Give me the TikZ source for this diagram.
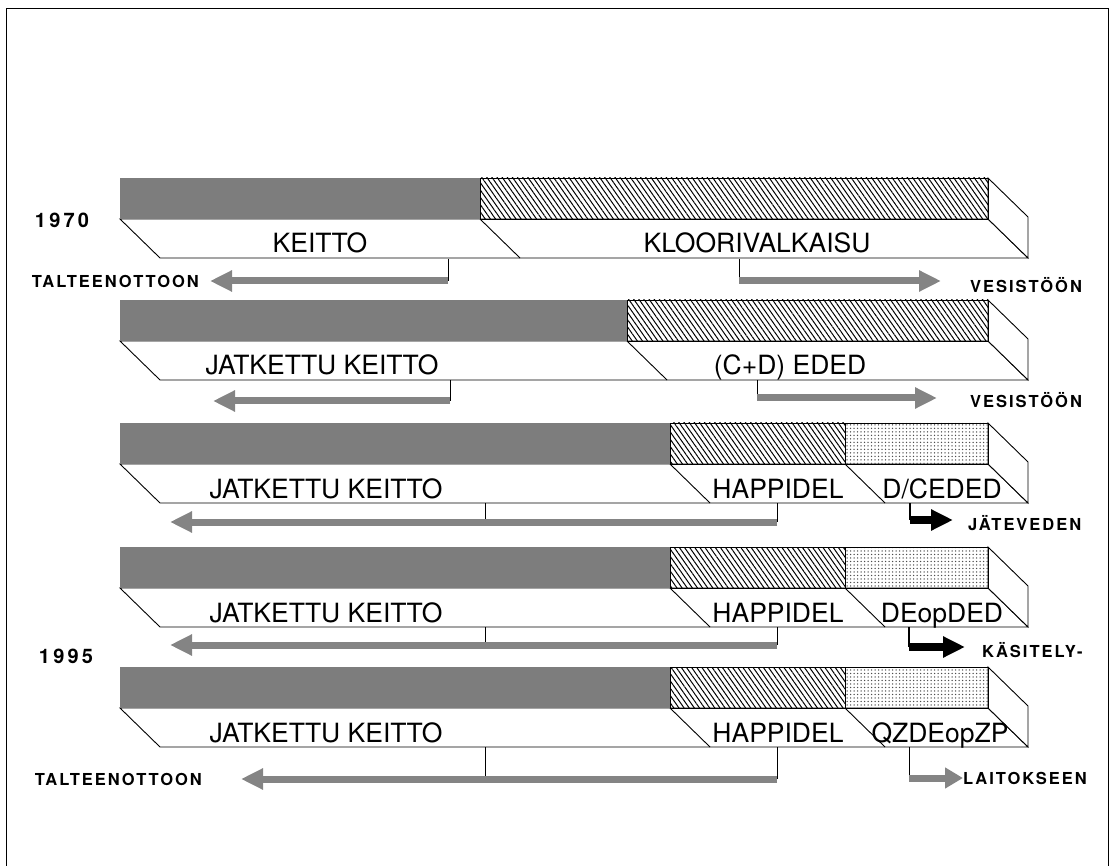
\documentclass[tikz,border=0pt]{standalone}
\usepackage{fontspec}
\setmainfont{TeX Gyre Heros}
\newfontfamily\pienifont[LetterSpace=12]{TeX Gyre Heros}
\newfontfamily\vuosifont[LetterSpace=16]{TeX Gyre Heros}
\usetikzlibrary{positioning,arrows.meta,patterns.meta}

\definecolor{palkki}{RGB}{125,125,125}
\definecolor{nuoli}{RGB}{132,132,132}

\tikzset{
  reuna/.style={line width=0.9pt, black},
  viiva/.style={line width=0.9pt, black},
  vaihe/.style={font=\fontsize{26.5}{30}\selectfont, inner sep=0pt, anchor=base},
  kohde/.style={font=\pienifont\bfseries\fontsize{16.5}{19}\selectfont, inner sep=0pt},
  vuosi/.style={font=\vuosifont\bfseries\fontsize{20}{22}\selectfont, inner sep=0pt, anchor=base},
  harmaanuoli/.style={line width=7pt, nuoli, -{Triangle[length=22pt,width=20pt]}},
  mustanuoli/.style={line width=8pt, black, -{Triangle[length=22pt,width=20pt]}},
  vino/.style={pattern={Lines[angle=-55,distance=4.2pt,line width=1pt]}},
  piste/.style={pattern={Dots[distance=3.5pt,radius=0.75pt]}, pattern color=black!70},
}

\begin{document}
\begin{tikzpicture}[x=1pt,y=-1pt]
    \useasboundingbox (0,0) rectangle (1114,866);

    % KEHYS
    \draw[reuna] (6,866) -- (6,8) -- (1108,8) -- (1108,866);

    % PALKKIEN ETU- JA SIVUTAHKOT
    \foreach \yy in {178,300,423,547,667} {
        \draw[reuna, fill=white] (120,\yy+41) -- (988,\yy+41) -- (1028,\yy+80) -- (160,\yy+80) -- cycle;
        \draw[reuna, fill=white] (988,\yy) -- (1028,\yy+39) -- (1028,\yy+80) -- (988,\yy+41) -- cycle;
    }

    % KAKSI VAIHETTA (1970 ja seuraava)
    \foreach \yy/\g in {178/480, 300/627} {
        \fill[palkki] (120,\yy) rectangle (\g,\yy+41);
        \draw[reuna, vino] (\g,\yy) rectangle (988,\yy+41);
        \draw[reuna] (\g,\yy+41) -- (\g+40,\yy+80);
    }

    % KOLME VAIHETTA
    \foreach \yy in {423,547,667} {
        \fill[palkki] (120,\yy) rectangle (670,\yy+41);
        \draw[reuna, vino] (670,\yy) rectangle (845,\yy+41);
        \draw[reuna, piste] (845,\yy) rectangle (988,\yy+41);
        \draw[reuna] (670,\yy+41) -- (710,\yy+80);
        \draw[reuna] (845,\yy+41) -- (885,\yy+80);
    }

    % VAIHEIDEN NIMET
    \node[vaihe] (keitto) at (320,253) {KEITTO};
    \node[vaihe] (kloori) at (757,253) {KLOORIVALKAISU};
    \node[vaihe] (jatk2) at (322,375) {JATKETTU KEITTO};
    \node[vaihe] (eded) at (790,375) {(C+D) EDED};
    \node[vaihe] (jatk3) at (326,498) {JATKETTU KEITTO};
    \node[vaihe] (happi3) at (778,498) {HAPPIDEL};
    \node[vaihe] (dced) at (942,498) {D/CEDED};
    \node[vaihe] (jatk4) at (326,622) {JATKETTU KEITTO};
    \node[vaihe] (happi4) at (778,622) {HAPPIDEL};
    \node[vaihe] (deop) at (942,622) {DEopDED};
    \node[vaihe] (jatk5) at (326,742) {JATKETTU KEITTO};
    \node[vaihe] (happi5) at (778,742) {HAPPIDEL};
    \node[vaihe] (qz) at (940,742) {QZDEopZP};

    % VUODET
    \node[vuosi] (v1970) at (62,228) {1970};
    \node[vuosi] (v1995) at (66,663) {1995};

    % NUOLET, RIVI 1
    \coordinate (a1) at (448,259); \coordinate (a1k) at (448,281); \coordinate (k1) at (210,281);
    \draw[viiva] (a1) -- (a1k);
    \draw[harmaanuoli] (a1k) -- (k1);
    \node[kohde, left=11pt of k1] (talteen1) {TALTEENOTTOON};
    \coordinate (b1) at (739,259); \coordinate (b1k) at (739,281); \coordinate (m1) at (941,281);
    \draw[viiva] (b1) -- (b1k);
    \draw[harmaanuoli] (b1k) -- (m1);
    \node[kohde, right=29pt of m1, yshift=-4pt] (vesi1) {VESISTÖÖN};

    % NUOLET, RIVI 2
    \coordinate (a2) at (450,380); \coordinate (a2k) at (450,401); \coordinate (k2) at (213,401);
    \draw[viiva] (a2) -- (a2k);
    \draw[harmaanuoli] (a2k) -- (k2);
    \coordinate (b2) at (757,380); \coordinate (b2k) at (757,398); \coordinate (m2) at (937,398);
    \draw[viiva] (b2) -- (b2k);
    \draw[harmaanuoli] (b2k) -- (m2);
    \node[kohde, right=33pt of m2, yshift=-2pt] (vesi2) {VESISTÖÖN};

    % NUOLET, RIVIT 3-5
    \foreach \b/\s/\kx in {503/522/170, 627/645/170, 747/779/241} {
        \coordinate (p\b) at (485,\b); \coordinate (pk\b) at (485,\s);
        \coordinate (q\b) at (777,\b); \coordinate (qk\b) at (777,\s);
        \coordinate (kk\b) at (\kx,\s);
        \draw[viiva] (p\b) -- (pk\b);
        \draw[viiva] (q\b) -- (qk\b);
        \draw[harmaanuoli] (qk\b) -- (kk\b);
    }
    \node[kohde, left=39pt of kk747] (talteen5) {TALTEENOTTOON};

    % JÄTEVEDEN KÄSITTELY
    \coordinate (c3) at (910,503); \coordinate (c3k) at (910,520); \coordinate (j3) at (953,520);
    \draw[viiva, line width=2pt] (c3) -- (c3k);
    \draw[mustanuoli] (c3k) -- (j3);
    \node[kohde, right=15pt of j3, yshift=-3pt] (jate) {JÄTEVEDEN};
    \coordinate (c4) at (909,627); \coordinate (c4k) at (909,647); \coordinate (j4) at (965,647);
    \draw[viiva, line width=2pt] (c4) -- (c4k);
    \draw[mustanuoli] (c4k) -- (j4);
    \node[kohde, right=17pt of j4, yshift=-3pt] (kasit) {KÄSITELY-};
    \coordinate (c5) at (909,747); \coordinate (c5k) at (909,778); \coordinate (j5) at (963,778);
    \draw[viiva] (c5) -- (c5k);
    \draw[harmaanuoli, -{Triangle[length=18pt,width=20pt]}] (c5k) -- (j5);
    \node[kohde, right=0pt of j5] (laitos) {LAITOKSEEN};
\end{tikzpicture}
\end{document}
